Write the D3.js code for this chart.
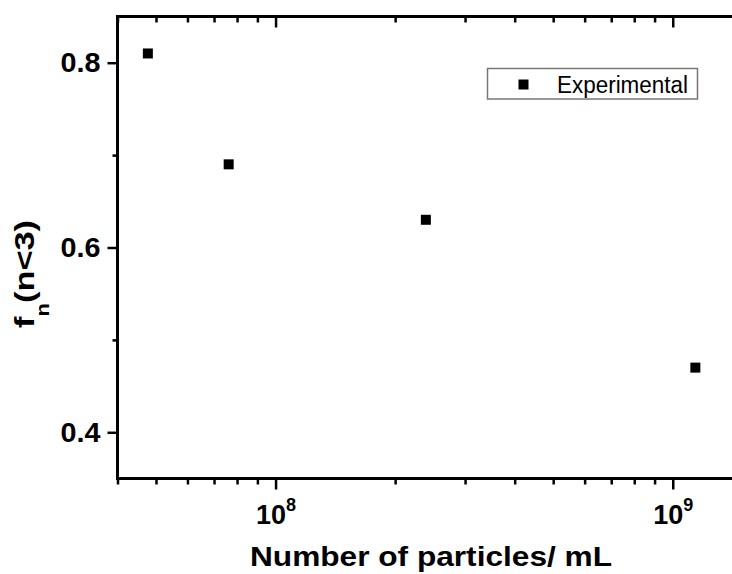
<!DOCTYPE html>
<html>
<head>
<meta charset="utf-8">
<script src="https://cdn.jsdelivr.net/npm/d3@7"></script>
<style>
  body { margin: 0; background: #fff; overflow: hidden; }
  svg { display: block; overflow: hidden; font-family: "Liberation Sans", Arial, sans-serif; }
</style>
</head>
<body>
<svg id="vis-svg" width="732" height="574"></svg>
<script>
// data
const particles = [4.77e7, 7.62e7, 2.39e8, 1.14e9];
const fraction = [0.81, 0.69, 0.63, 0.47];
const yTicksMajor = [0.4, 0.6, 0.8];
const yTicksMinor = [0.5, 0.7];
const seriesName = "Experimental";
const xLabelText = "Number of particles/ mL";

// plot box runs past the right edge of the page, like the original
const plotL = 117.5, plotR = 742.7, plotT = 16.5, plotB = 478.5;

const svg = d3.select("#vis-svg");

// Set up scales
const x = d3.scaleLog().domain([4e7, 1.5e9]).range([plotL, plotR]);
const y = d3.scaleLinear().domain([0.35, 0.85]).range([plotB, plotT]);

const allX = x.ticks();
const isMajor = v => Math.abs(Math.log10(v) - Math.round(Math.log10(v))) < 1e-9;
const xMajor = allX.filter(isMajor),
      xMinor = allX.filter(v => !isMajor(v));

function styleAxis(g) {
    g.select(".domain").remove();
    g.selectAll(".tick line").attr("stroke", "#000").attr("stroke-width", 2.5);
}

// bottom axis (ticks out)
svg.append("g").attr("transform", "translate(0," + plotB + ")")
    .call(d3.axisBottom(x).tickValues(xMinor).tickSize(6).tickFormat("")).call(styleAxis);
const xb = svg.append("g").attr("transform", "translate(0," + plotB + ")")
    .call(d3.axisBottom(x).tickValues(xMajor).tickSize(11).tickFormat("")).call(styleAxis);

// superscript tick labels
xb.selectAll(".tick text").each(function(d) {
    const t = d3.select(this)
        .attr("y", 45).attr("dy", 0)
        .attr("fill", "#000")
        .style("font-size", "27px").style("font-weight", "bold")
        .style("text-anchor", "middle");
    t.append("tspan").text("10");
    t.append("tspan").attr("dy", -13).style("font-size", "18px").text(Math.round(Math.log10(d)));
});

// top axis (ticks in)
svg.append("g").attr("transform", "translate(0," + plotT + ")")
    .call(d3.axisTop(x).tickValues(xMinor).tickSize(-6).tickFormat("")).call(styleAxis);
svg.append("g").attr("transform", "translate(0," + plotT + ")")
    .call(d3.axisTop(x).tickValues(xMajor).tickSize(-11).tickFormat("")).call(styleAxis);

// left axis (ticks out)
svg.append("g").attr("transform", "translate(" + plotL + ",0)")
    .call(d3.axisLeft(y).tickValues(yTicksMinor).tickSize(5).tickFormat("")).call(styleAxis);
const yl = svg.append("g").attr("transform", "translate(" + plotL + ",0)")
    .call(d3.axisLeft(y).tickValues(yTicksMajor).tickSize(10).tickPadding(7).tickFormat(d3.format(".1f")))
    .call(styleAxis);
yl.selectAll(".tick text")
    .attr("fill", "#000")
    .attr("textLength", 40).attr("lengthAdjust", "spacingAndGlyphs")
    .style("font-size", "28px").style("font-weight", "bold");

// right axis (ticks in, cut off by the page edge)
svg.append("g").attr("transform", "translate(" + plotR + ",0)")
    .call(d3.axisRight(y).tickValues(yTicksMinor).tickSize(-5).tickFormat("")).call(styleAxis);
svg.append("g").attr("transform", "translate(" + plotR + ",0)")
    .call(d3.axisRight(y).tickValues(yTicksMajor).tickSize(-10).tickFormat("")).call(styleAxis);

// frame lines
const frame = [
    [plotL, plotT, plotR, plotT],
    [plotL, plotB, plotR, plotB],
    [plotL, plotT, plotL, plotB],
    [plotR, plotT, plotR, plotB]
];
svg.selectAll(".frame")
    .data(frame)
  .enter().append("line")
    .attr("x1", d => d[0]).attr("y1", d => d[1])
    .attr("x2", d => d[2]).attr("y2", d => d[3])
    .attr("stroke", "#000").attr("stroke-width", 3)
    .attr("stroke-linecap", "square");

// points
const pts = particles.map((p, i) => ({x: p, y: fraction[i]}));
svg.selectAll(".pt")
    .data(pts)
  .enter().append("rect")
    .attr("class", "pt")
    .attr("x", d => x(d.x) - 5)
    .attr("y", d => y(d.y) - 5)
    .attr("width", 10).attr("height", 10)
    .attr("fill", "#000");

// legend
const lg = svg.append("g");
lg.append("rect")
    .attr("x", 487.5).attr("y", 68.5).attr("width", 210).attr("height", 30.5)
    .attr("fill", "#fff").attr("stroke", "#777").attr("stroke-width", 1.5);
lg.append("rect")
    .attr("x", 518.5).attr("y", 79.5).attr("width", 10).attr("height", 10)
    .attr("fill", "#000");
lg.append("text")
    .attr("x", 557).attr("y", 92.5)
    .attr("textLength", 131).attr("lengthAdjust", "spacingAndGlyphs")
    .style("font-size", "23px")
    .text(seriesName);

// x axis label
svg.append("text")
    .attr("x", 250).attr("y", 566)
    .attr("textLength", 362).attr("lengthAdjust", "spacingAndGlyphs")
    .style("font-size", "28px").style("font-weight", "bold")
    .text(xLabelText);

// y axis label
const yLab = svg.append("text")
    .attr("transform", "translate(34,274) rotate(-90)")
    .style("text-anchor", "middle")
    .attr("textLength", 108).attr("lengthAdjust", "spacingAndGlyphs")
    .style("font-size", "28px").style("font-weight", "bold");
yLab.append("tspan").text("f");
yLab.append("tspan").attr("dy", 15).style("font-size", "18px").text("n");
yLab.append("tspan").attr("dy", -15).text("(n<3)");
</script>
</body>
</html>
